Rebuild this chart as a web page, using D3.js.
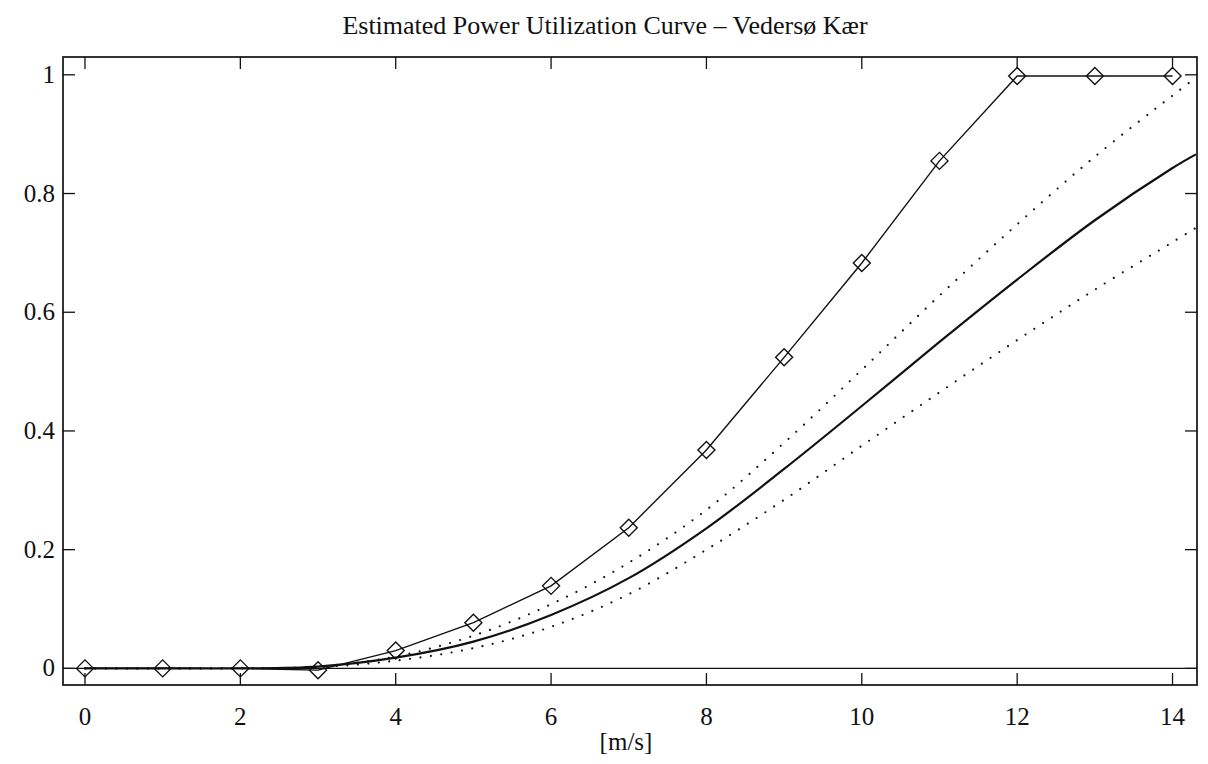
<!DOCTYPE html>
<html>
<head>
<meta charset="utf-8">
<script src="https://cdn.jsdelivr.net/npm/d3@7"></script>
<style>
  html, body { margin: 0; padding: 0; background: #fff; }
  svg { display: block; }
  text { font-family: "Liberation Serif", "DejaVu Serif", serif; fill: #111; }
</style>
</head>
<body>
<svg id="chart" width="1208" height="764"></svg>
<script>
// ---- data ----
const titleText = "Estimated Power Utilization Curve \u2013 Vedersø Kær";
const xLabel = "[m/s]";
const xTicks = [0, 2, 4, 6, 8, 10, 12, 14];
const yTicks = [0, 0.2, 0.4, 0.6, 0.8, 1];
const yTickLabels = ["0", "0.2", "0.4", "0.6", "0.8", "1"];

// measured power curve (diamonds)
const measuredX = [0, 1, 2, 3, 4, 5, 6, 7, 8, 9, 10, 11, 12, 13, 14];
const measuredY = [0, 0, 0, -0.003, 0.03, 0.077, 0.139, 0.237, 0.368, 0.524, 0.683, 0.855, 0.998, 0.998, 0.998];

// estimated utilization curve (solid) and bounds (dotted)
const curveX = [0, 1, 2, 3, 4, 5, 6, 7, 8, 9, 10, 11, 12, 13, 14, 14.3];
const estimateY = [0, 0, 0, 0.003, 0.018, 0.045, 0.09, 0.152, 0.236, 0.336, 0.442, 0.55, 0.655, 0.755, 0.843, 0.866];
const upperY = [0, 0, 0, 0.003, 0.02, 0.055, 0.108, 0.178, 0.267, 0.38, 0.503, 0.628, 0.748, 0.862, 0.965, 0.995];
const lowerY = [0, 0, 0, 0.002, 0.013, 0.034, 0.07, 0.125, 0.2, 0.284, 0.375, 0.465, 0.553, 0.638, 0.718, 0.742];

// ---- layout ----
const svg = d3.select("#chart");
const pLeft = 63, pRight = 1197, pTop = 57, pBottom = 685;
const x = d3.scaleLinear().domain([-0.283, 14.315]).range([pLeft, pRight]);
const y = d3.scaleLinear().domain([-0.028, 1.030]).range([pBottom, pTop]);

svg.append("rect").attr("width", 1208).attr("height", 764).attr("fill", "#fff");

// title
svg.append("text")
  .attr("x", 605).attr("y", 34)
  .attr("text-anchor", "middle")
  .style("font-size", "26px")
  .text(titleText);

// zero line
svg.append("line")
  .attr("x1", pLeft).attr("x2", pRight)
  .attr("y1", y(0)).attr("y2", y(0))
  .attr("stroke", "#111").attr("stroke-width", 1.4);

// frame
svg.append("rect")
  .attr("x", pLeft).attr("y", pTop)
  .attr("width", pRight - pLeft).attr("height", pBottom - pTop)
  .attr("fill", "none").attr("stroke", "#111").attr("stroke-width", 1.7);

const tickLen = 12;
const ax = svg.append("g").attr("stroke", "#111").attr("stroke-width", 1.3);
xTicks.forEach(t => {
  ax.append("line").attr("x1", x(t)).attr("x2", x(t)).attr("y1", pBottom).attr("y2", pBottom - tickLen);
  ax.append("line").attr("x1", x(t)).attr("x2", x(t)).attr("y1", pTop).attr("y2", pTop + tickLen);
});
yTicks.forEach(t => {
  ax.append("line").attr("x1", pLeft).attr("x2", pLeft + tickLen).attr("y1", y(t)).attr("y2", y(t));
  ax.append("line").attr("x1", pRight).attr("x2", pRight - tickLen).attr("y1", y(t)).attr("y2", y(t));
});

// tick labels
svg.append("g").selectAll("text").data(xTicks).join("text")
  .attr("x", d => x(d)).attr("y", 725)
  .attr("text-anchor", "middle")
  .style("font-size", "25px")
  .text(d => String(d));

svg.append("g").selectAll("text").data(yTicks).join("text")
  .attr("x", 55).attr("y", d => y(d) + 8)
  .attr("text-anchor", "end")
  .style("font-size", "25px")
  .text((d, i) => yTickLabels[i]);

// x axis label
svg.append("text")
  .attr("x", 626).attr("y", 750)
  .attr("text-anchor", "middle")
  .style("font-size", "25px")
  .text(xLabel);

// ---- series ----
svg.append("clipPath").attr("id", "clip")
  .append("rect").attr("x", pLeft).attr("y", pTop).attr("width", pRight - pLeft).attr("height", pBottom - pTop);

const g = svg.append("g").attr("clip-path", "url(#clip)");

const smooth = d3.line().x(d => x(d[0])).y(d => y(d[1])).curve(d3.curveCatmullRom.alpha(0.5));
const straight = d3.line().x(d => x(d[0])).y(d => y(d[1]));

const estPts = curveX.map((v, i) => [v, estimateY[i]]);
const upPts = curveX.map((v, i) => [v, upperY[i]]);
const loPts = curveX.map((v, i) => [v, lowerY[i]]);
const mPts = measuredX.map((v, i) => [v, measuredY[i]]);

[upPts, loPts].forEach(pts => {
  g.append("path").attr("d", smooth(pts))
    .attr("fill", "none").attr("stroke", "#111")
    .attr("stroke-width", 2.2).attr("stroke-linecap", "round")
    .attr("stroke-dasharray", "0,10.5");
});

g.append("path").attr("d", smooth(estPts))
  .attr("fill", "none").attr("stroke", "#111").attr("stroke-width", 2.2);

g.append("path").attr("d", straight(mPts))
  .attr("fill", "none").attr("stroke", "#111").attr("stroke-width", 1.4);

const h = 8.5;
svg.append("g").selectAll("path").data(mPts).join("path")
  .attr("d", d => {
    const cx = x(d[0]), cy = y(d[1]);
    return `M${cx},${cy - h}L${cx + h},${cy}L${cx},${cy + h}L${cx - h},${cy}Z`;
  })
  .attr("fill", "none").attr("stroke", "#111").attr("stroke-width", 1.4);
</script>
</body>
</html>
